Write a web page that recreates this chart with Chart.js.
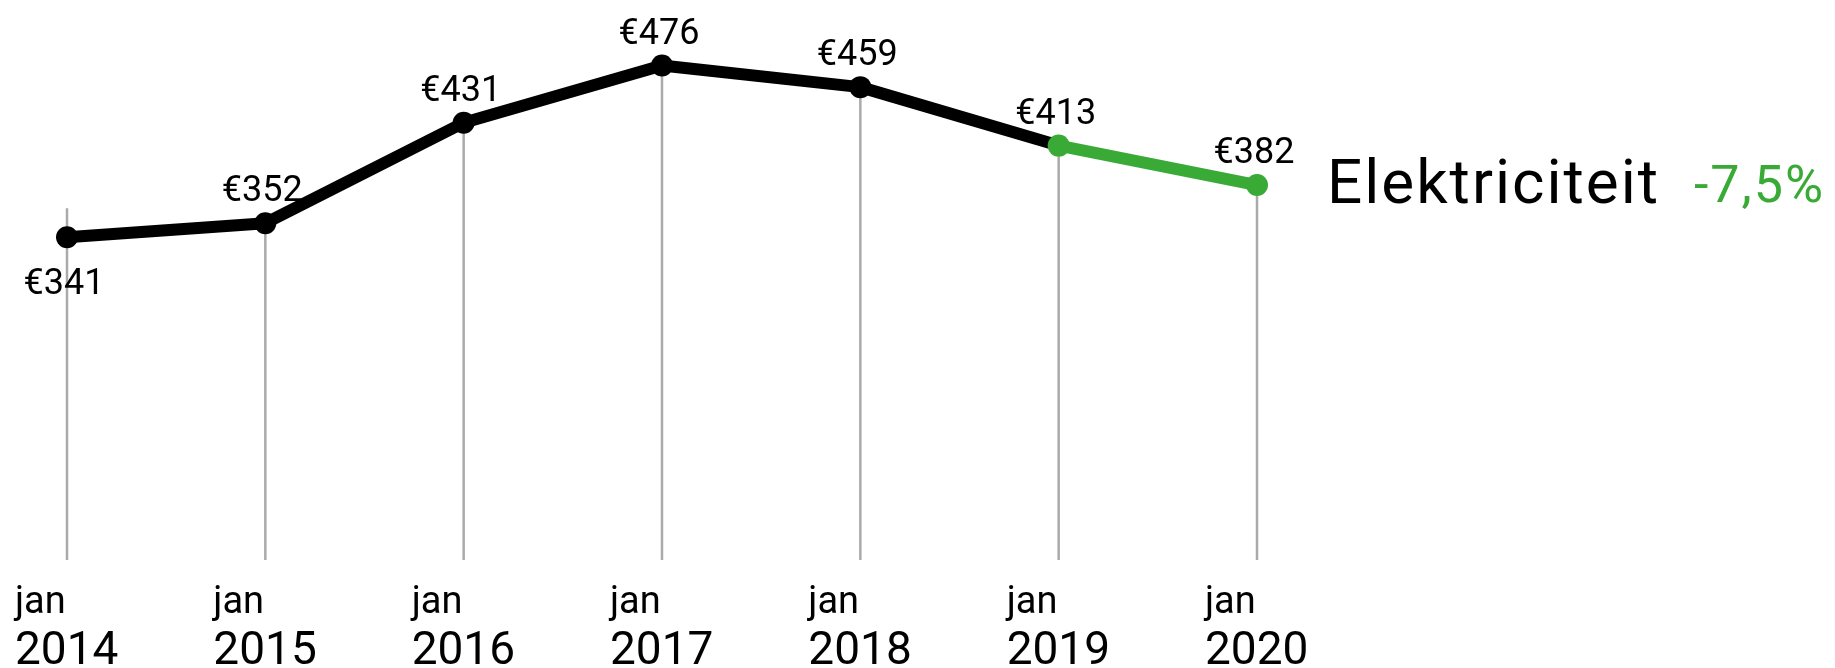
<!DOCTYPE html>
<html lang="nl">
<head>
  <meta charset="UTF-8" />
  <title>Elektriciteit</title>
  <script src="https://cdn.jsdelivr.net/npm/chart.js"></script>
  <style>
    html, body {
      margin: 0;
      padding: 0;
      background: #fff;
    }
    #chart {
      display: block;
    }
  </style>
</head>
<body>
  <canvas id="chart" width="1835" height="668"></canvas>

  <script>
    // data
    const months = ["jan", "jan", "jan", "jan", "jan", "jan", "jan"];
    const years = ["2014", "2015", "2016", "2017", "2018", "2019", "2020"];
    const prices = [341, 352, 431, 476, 459, 413, 382];
    const seriesName = "Elektriciteit";
    const change = "-7,5%";

    const black = "#000";
    const green = "#39aa35";
    const greenFrom = 5; // last year shown in green

    const fontFamily = "Roboto, 'Noto Sans', sans-serif";

    const dropLines = {
      id: "dropLines",
      beforeDatasetsDraw(chart) {
        const ctx = chart.ctx;
        const x = chart.scales.x;
        const y = chart.scales.y;
        const bottom = y.getPixelForValue(87);
        ctx.save();
        ctx.strokeStyle = "#aaaaaa";
        ctx.lineWidth = 2.5;
        prices.forEach((v, i) => {
          const px = x.getPixelForValue(i);
          let top = y.getPixelForValue(v);
          if (i === 0) top -= 29;
          ctx.beginPath();
          ctx.moveTo(px, top);
          ctx.lineTo(px, bottom);
          ctx.stroke();
        });
        ctx.restore();
      }
    };

    const labels = {
      id: "labels",
      afterDatasetsDraw(chart) {
        const ctx = chart.ctx;
        const x = chart.scales.x;
        const y = chart.scales.y;
        ctx.save();
        ctx.fillStyle = "#000";
        ctx.textBaseline = "alphabetic";

        // value labels
        ctx.font = "36px " + fontFamily;
        ctx.textAlign = "center";
        prices.forEach((v, i) => {
          const px = x.getPixelForValue(i) - 3;
          const py = y.getPixelForValue(v);
          const ty = i === 0 ? py + 57 : py - 22;
          ctx.fillText("€" + v, px, ty);
        });

        // x axis labels
        ctx.textAlign = "left";
        years.forEach((yr, i) => {
          const px = x.getPixelForValue(i) - 52;
          ctx.font = "38px " + fontFamily;
          ctx.fillText(months[i], px, 613);
          ctx.font = "46px " + fontFamily;
          ctx.fillText(yr, px, 664);
        });

        // series name + change
        ctx.fillStyle = black;
        ctx.font = "62px " + fontFamily;
        ctx.letterSpacing = "2px";
        ctx.fillText(seriesName, 1327, 203);
        ctx.fillStyle = green;
        ctx.font = "52px " + fontFamily;
        ctx.letterSpacing = "2px";
        ctx.fillText(change, 1694, 202);
        ctx.restore();
      }
    };

    new Chart(document.getElementById("chart"), {
      type: "line",
      data: {
        labels: years,
        datasets: [{
          data: prices,
          borderColor: black,
          borderWidth: 12,
          borderCapStyle: "round",
          borderJoinStyle: "round",
          tension: 0,
          clip: false,
          pointRadius: 11,
          pointHoverRadius: 11,
          pointBorderWidth: 0,
          pointBackgroundColor: prices.map((v, i) => i >= greenFrom ? green : black),
          segment: {
            borderColor: c => c.p0DataIndex >= greenFrom ? green : black
          }
        }]
      },
      options: {
        responsive: false,
        animation: false,
        layout: {
          padding: { left: 67, right: 578, top: 35, bottom: 99 }
        },
        plugins: {
          legend: { display: false },
          tooltip: { enabled: false }
        },
        scales: {
          x: { display: false, offset: false },
          y: { display: false, min: 80, max: 500 }
        }
      },
      plugins: [dropLines, labels]
    });
  </script>
</body>
</html>
